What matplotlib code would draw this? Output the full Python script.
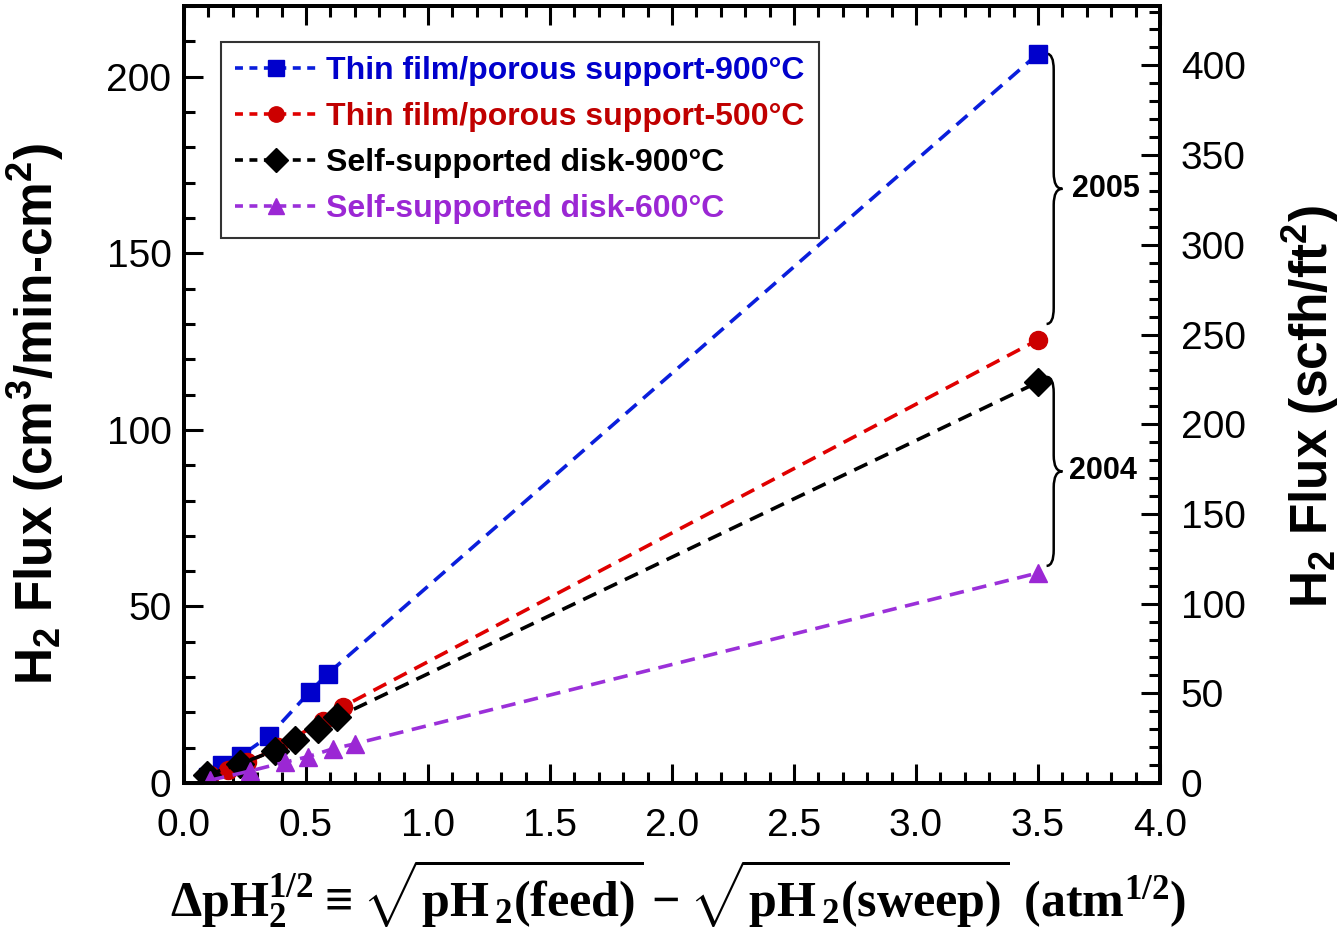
import numpy as np
import matplotlib
matplotlib.use('Agg')
import matplotlib.pyplot as plt
from matplotlib.path import Path
from matplotlib.patches import PathPatch
from matplotlib.ticker import MultipleLocator

plt.rcParams['font.family'] = ['Liberation Sans', 'DejaVu Sans']
plt.rcParams['mathtext.fontset'] = 'custom'
plt.rcParams['mathtext.rm'] = 'Liberation Serif:bold'
plt.rcParams['mathtext.bf'] = 'Liberation Serif:bold'
plt.rcParams['mathtext.default'] = 'regular'

# values
film_900_x = [0.10, 0.155, 0.235, 0.35, 0.515, 0.59, 3.5]
film_900_y = [1.7, 5.0, 7.8, 13.4, 25.8, 31.0, 206.5]
film_500_x = [0.107, 0.18, 0.26, 0.385, 0.57, 0.65, 3.5]
film_500_y = [2.2, 3.6, 5.9, 10.1, 17.7, 21.6, 125.5]
disk_900_x = [0.093, 0.23, 0.373, 0.455, 0.55, 0.626, 3.5]
disk_900_y = [2.2, 5.5, 9.2, 12.2, 15.3, 18.6, 113.5]
disk_600_x = [0.107, 0.27, 0.414, 0.51, 0.61, 0.70, 3.5]
disk_600_y = [0.8, 3.4, 5.9, 7.5, 9.7, 11.1, 59.5]

labels = ['Thin film/porous support-900°C', 'Thin film/porous support-500°C',
          'Self-supported disk-900°C', 'Self-supported disk-600°C']
line_colors = ['#0a1edc', '#e00000', '#000000', '#9b30d9']
marker_colors = ['#0000cc', '#cc0000', '#000000', '#9b27d4']
text_colors = ['#0000cc', '#c00000', '#000000', '#9b27d4']
markers = ['s', 'o', 'D', '^']
marker_sizes = [13.5, 13, 14, 13.5]

SCFH_PER_CCM = 1.9685  # cm3/min-cm2 -> scfh/ft2


def draw_brace(ax, x0, y_top, y_bot, w, r, lw=1.8):
    xm = x0 + w * 0.45
    xt = x0 + w
    ymid = (y_top + y_bot) / 2
    verts = [
        (x0, y_top), (xm, y_top), (xm, y_top - r),
        (xm, ymid + r), (xm, ymid), (xt, ymid),
        (xm, ymid), (xm, ymid - r),
        (xm, y_bot + r), (xm, y_bot), (x0, y_bot),
    ]
    codes = [Path.MOVETO, Path.CURVE3, Path.CURVE3,
             Path.LINETO, Path.CURVE3, Path.CURVE3,
             Path.CURVE3, Path.CURVE3,
             Path.LINETO, Path.CURVE3, Path.CURVE3]
    ax.add_patch(PathPatch(Path(verts, codes), fill=False, lw=lw,
                           edgecolor='black', clip_on=False))
    return xt, ymid


fig = plt.figure(figsize=(13.4, 9.3), dpi=100)
ax = fig.add_axes([0.1373, 0.158, 0.7284, 0.8355])

series = [(film_900_x, film_900_y), (film_500_x, film_500_y),
          (disk_900_x, disk_900_y), (disk_600_x, disk_600_y)]
for (xs, ys), lab, lc, mc, m, ms in zip(series, labels, line_colors,
                                         marker_colors, markers, marker_sizes):
    ax.plot(xs, ys, linestyle=(0, (4, 2.4)), lw=2.6, color=lc,
            marker=m, markersize=ms, markerfacecolor=mc,
            markeredgecolor=mc, label=lab, zorder=3)

ax.set_xlim(0, 4.0)
ax.set_ylim(0, 220)
ax.xaxis.set_major_locator(MultipleLocator(0.5))
ax.xaxis.set_minor_locator(MultipleLocator(0.1))
ax.yaxis.set_major_locator(MultipleLocator(50))
ax.yaxis.set_minor_locator(MultipleLocator(10))
ax.xaxis.set_major_formatter(matplotlib.ticker.FormatStrFormatter('%.1f'))

ax.tick_params(which='both', direction='in', top=True, right=False,
               width=2.2, labelsize=28)
ax.tick_params(which='major', length=14)
ax.tick_params(which='minor', length=8)
ax.tick_params(axis='x', pad=18)
ax.tick_params(axis='y', pad=9)
for sp in ax.spines.values():
    sp.set_linewidth(2.8)

ax2 = ax.twinx()
ax2.set_ylim(0, 220 * SCFH_PER_CCM)
ax2.yaxis.set_major_locator(MultipleLocator(50))
ax2.yaxis.set_minor_locator(MultipleLocator(10))
ax2.tick_params(which='both', direction='in', width=2.2, labelsize=28, pad=15)
ax2.tick_params(which='major', length=14)
ax2.tick_params(which='minor', length=8)
for sp in ax2.spines.values():
    sp.set_linewidth(2.8)

ax.set_ylabel('H$_2$ Flux (cm$^3$/min-cm$^2$)', fontsize=37,
              fontweight='bold')
ax.yaxis.set_label_coords(-0.121, 0.475)
ax2.set_ylabel('H$_2$ Flux (scfh/ft$^2$)', fontsize=37, fontweight='bold',
               rotation=90)
ax2.yaxis.set_label_coords(1.123, 0.485)

ax.set_xlabel(r'$\Delta pH_2^{1/2} \equiv \sqrt{pH_{\,2}(feed)} - '
              r'\sqrt{pH_{\,2}(sweep)}\ (atm^{1/2})$',
              fontsize=36, fontfamily='Liberation Serif', fontweight='bold')
ax.xaxis.set_label_coords(0.506, -0.096)

# year braces
tip_x, tip_y = draw_brace(ax, 3.535, film_900_y[-1], film_500_y[-1] + 4.5,
                          0.065, 4.5)
ax.text(tip_x + 0.04, tip_y, '2005', fontsize=22, fontweight='bold',
        va='center', ha='left')
tip_x, tip_y = draw_brace(ax, 3.535, disk_900_y[-1] + 1.5,
                          disk_600_y[-1] + 2.0, 0.065, 4.5)
ax.text(tip_x + 0.025, tip_y, '2004', fontsize=22, fontweight='bold',
        va='center', ha='left')

leg = ax.legend(loc='upper left', bbox_to_anchor=(0.038, 0.954),
                borderaxespad=0, handlelength=2.55,
                handletextpad=0.3, labelspacing=0.5, markerscale=0.85,
                fancybox=False, edgecolor='black', borderpad=0.45,
                prop={'weight': 'bold', 'size': 23})
leg.get_frame().set_linewidth(1.5)
for txt, c in zip(leg.get_texts(), text_colors):
    txt.set_color(c)
for h in leg.legend_handles:
    h.set_linestyle((0, (2.2, 1.8)))

fig.savefig('out.png', dpi=100)
